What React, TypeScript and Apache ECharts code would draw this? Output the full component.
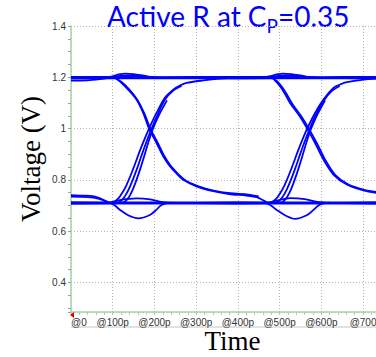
import React, { useEffect, useRef } from "react";
import * as echarts from "echarts";

// ---- data (time in ps, voltage in V) ----
const xTickValues = [0, 100, 200, 300, 400, 500, 600, 700];
const xTickLabels = ["@0", "@100p", "@200p", "@300p", "@400p", "@500p", "@600p", "@700"];
const yTickValues = [0.4, 0.6, 0.8, 1.0, 1.2, 1.4];
const yTickLabels = ["0.4", "0.6", "0.8", "1", "1.2", "1.4"];

const topRailA = [[0, 1.199], [150, 1.199], [300, 1.199], [450, 1.199], [600, 1.199], [731, 1.199]];
const topRailB = [[0, 1.195], [200, 1.196], [400, 1.195], [600, 1.196], [731, 1.195]];
const topRailC = [[0, 1.202], [200, 1.201], [400, 1.202], [600, 1.201], [731, 1.202]];
const topLeftStrand = [[0, 1.187], [40, 1.188], [70, 1.193], [90, 1.198]];

const bump1 = [[80, 1.199], [100, 1.204], [115, 1.211], [130, 1.214], [150, 1.212], [175, 1.206], [200, 1.2], [215, 1.199]];
const bump1b = [[85, 1.199], [110, 1.204], [135, 1.207], [160, 1.206], [185, 1.202], [205, 1.199]];
const bump2 = [[455, 1.199], [478, 1.205], [493, 1.211], [508, 1.214], [528, 1.212], [553, 1.206], [578, 1.2], [593, 1.199]];
const bump2b = [[462, 1.199], [488, 1.204], [513, 1.207], [538, 1.206], [563, 1.202], [583, 1.199]];

const fall1 = [[95, 1.2], [105, 1.199], [117, 1.184], [137, 1.152], [157, 1.113], [173, 1.061], [187, 1.0], [205, 0.944], [221, 0.892], [237, 0.853], [253, 0.825], [269, 0.801], [301, 0.775], [341, 0.756], [379, 0.745], [420, 0.739], [445, 0.733], [461, 0.72], [473, 0.71]];
const fall1b = [[100, 1.2], [121, 1.182], [141, 1.15], [160, 1.11], [176, 1.058], [190, 1.0], [208, 0.944], [224, 0.892], [240, 0.853], [272, 0.801], [304, 0.776], [344, 0.757], [382, 0.748], [425, 0.743], [450, 0.736]];
const fall2 = [[472, 1.2], [480, 1.2], [490, 1.186], [501, 1.165], [513, 1.135], [525, 1.1], [549, 1.046], [566, 1.0], [585, 0.944], [605, 0.879], [629, 0.821], [661, 0.782], [701, 0.759], [731, 0.749]];
const fall2b = [[477, 1.2], [494, 1.185], [505, 1.164], [517, 1.134], [529, 1.1], [553, 1.045], [570, 1.0], [589, 0.944], [609, 0.879], [633, 0.82], [665, 0.782], [705, 0.76], [731, 0.753]];

const lowTailL = [[0, 0.741], [30, 0.739], [55, 0.736], [70, 0.728], [85, 0.716], [95, 0.71]];
const lowTailL2 = [[0, 0.735], [40, 0.733], [65, 0.727], [90, 0.712]];

const lowRailA = [[0, 0.71], [200, 0.71], [400, 0.71], [600, 0.71], [731, 0.71]];
const lowRailB = [[0, 0.707], [200, 0.708], [400, 0.707], [600, 0.708], [731, 0.707]];
const lowRailC = [[0, 0.713], [200, 0.712], [400, 0.713], [600, 0.712], [731, 0.713]];

const dip1 = [[93, 0.711], [105, 0.7], [117, 0.684], [137, 0.662], [161, 0.65], [189, 0.663], [205, 0.684], [215, 0.7], [230, 0.709], [245, 0.711]];
const dip2 = [[469, 0.709], [481, 0.698], [493, 0.683], [513, 0.662], [537, 0.648], [565, 0.662], [581, 0.683], [593, 0.7], [607, 0.709], [620, 0.711]];
const lens1 = [[93, 0.711], [120, 0.722], [157, 0.728], [190, 0.724], [215, 0.714], [240, 0.71]];
const lens2 = [[469, 0.709], [496, 0.72], [525, 0.729], [560, 0.725], [590, 0.714], [615, 0.71]];

const rise1A = [[93, 0.71], [103, 0.714], [113, 0.727], [123, 0.75], [133, 0.78], [143, 0.818], [153, 0.86], [165, 0.913], [176, 0.958], [187, 1.0], [205, 1.061], [225, 1.12], [245, 1.152], [261, 1.168], [277, 1.178], [317, 1.188], [349, 1.194], [381, 1.198], [420, 1.199]];
const rise1B = [[108, 0.71], [118, 0.716], [128, 0.733], [138, 0.762], [148, 0.8], [158, 0.843], [168, 0.89], [180, 0.945], [192, 0.995], [205, 1.045], [225, 1.112], [245, 1.148], [265, 1.166]];
const rise1C = [[120, 0.71], [130, 0.716], [139, 0.733], [148, 0.762], [157, 0.8], [166, 0.843], [175, 0.89], [185, 0.945], [196, 0.998], [210, 1.05], [230, 1.11]];
const rise2A = [[472, 0.71], [482, 0.714], [492, 0.727], [502, 0.75], [512, 0.78], [522, 0.818], [532, 0.86], [544, 0.913], [555, 0.958], [566, 1.0], [585, 1.061], [605, 1.113], [629, 1.159], [645, 1.172], [661, 1.181], [701, 1.191], [731, 1.195]];
const rise2B = [[487, 0.71], [497, 0.716], [507, 0.733], [517, 0.762], [527, 0.8], [537, 0.843], [547, 0.89], [559, 0.945], [571, 0.995], [584, 1.045], [604, 1.105], [624, 1.145], [644, 1.166]];
const rise2C = [[499, 0.71], [509, 0.716], [518, 0.733], [527, 0.762], [536, 0.8], [545, 0.843], [554, 0.89], [564, 0.945], [575, 0.998], [589, 1.05], [609, 1.11]];

const traces = [
  topRailA, topRailB, topRailC, topLeftStrand,
  bump1, bump1b, bump2, bump2b,
  fall1, fall1b, fall2, fall2b,
  lowTailL, lowTailL2, lowRailA, lowRailB, lowRailC,
  dip1, dip2, lens1, lens2,
  rise1A, rise1B, rise1C, rise2A, rise2B, rise2C,
];

const BLUE = "#0000ff";
const AXIS_GREEN = "#a6d6a6";
const GRID_GRAY = "#b4b4b4";

function measure(text: string, font: string): number {
  const c = document.createElement("canvas").getContext("2d");
  if (!c) return text.length * 14;
  c.font = font;
  return c.measureText(text).width;
}

export default function App() {
  const ref = useRef<HTMLDivElement>(null);
  useEffect(() => {
    if (!ref.current) return;
    const chart = echarts.init(ref.current, undefined, { renderer: "svg" });
    const titleX = 107;
    const w1 = measure("Active R at C", "28px Lato");
    const wP = measure("P", "19px Lato");

    const series = traces.map((d, i) => ({
      type: "line",
      name: "t" + i,
      data: d,
      showSymbol: false,
      smooth: 0.3,
      silent: true,
      clip: true,
      lineStyle: { color: BLUE, width: 1.8 },
      itemStyle: { color: BLUE },
    }));

    chart.setOption({
      animation: false,
      backgroundColor: "#ffffff",
      grid: { left: 71, right: 0, top: 26, bottom: 45, containLabel: false, outerBoundsMode: "none" },
      xAxis: {
        type: "value",
        min: 0,
        max: 731,
        interval: 100,
        axisLine: { show: true, lineStyle: { color: AXIS_GREEN, width: 1.5 } },
        axisTick: { show: true, length: 3, lineStyle: { color: AXIS_GREEN } },
        minorTick: { show: true, splitNumber: 5, length: 3, lineStyle: { color: AXIS_GREEN } },
        minorSplitLine: { show: false },
        splitLine: { show: true, lineStyle: { color: GRID_GRAY, type: [1, 2], width: 1 } },
        axisLabel: {
          margin: 5,
          fontSize: 10,
          fontFamily: "Liberation Sans Narrow, Liberation Sans, sans-serif",
          color: "#333",
          showMaxLabel: false,
          alignMinLabel: "left",
          formatter: (v: number) => {
            const i = xTickValues.indexOf(Math.round(v));
            return i >= 0 && Math.abs(v - Math.round(v)) < 1e-6 ? xTickLabels[i] : "";
          },
        },
      },
      yAxis: {
        type: "value",
        min: 0.285,
        max: 1.4,
        splitNumber: 5,
        axisLine: { show: true, lineStyle: { color: AXIS_GREEN, width: 1.5 } },
        axisTick: { show: true, length: 3, lineStyle: { color: "#a0a0a0" } },
        minorTick: { show: true, splitNumber: 4, length: 3, lineStyle: { color: "#a0a0a0" } },
        splitLine: { show: true, lineStyle: { color: GRID_GRAY, type: [1, 2], width: 1 } },
        axisLabel: {
          margin: 5,
          fontSize: 10,
          fontFamily: "Liberation Sans, sans-serif",
          color: "#333",
          showMinLabel: false,
          formatter: (v: number) => {
            const i = yTickValues.findIndex((t) => Math.abs(t - v) < 1e-6);
            return i >= 0 ? yTickLabels[i] : "";
          },
        },
      },
      graphic: [
        { type: "text", x: titleX, y: 16, style: { text: "Active R at C", fontSize: 28, fontFamily: "Lato", fill: BLUE, align: "left", verticalAlign: "middle" } },
        { type: "text", x: titleX + w1, y: 25, style: { text: "P", fontSize: 19, fontFamily: "Lato", fill: BLUE, align: "left", verticalAlign: "middle" } },
        { type: "text", x: titleX + w1 + wP, y: 16, style: { text: "=0.35", fontSize: 28, fontFamily: "Lato", fill: BLUE, align: "left", verticalAlign: "middle" } },
        { type: "text", x: 232.5, y: 341, style: { text: "Time", fontSize: 27, fontFamily: "Liberation Serif", fill: "#000", align: "center", verticalAlign: "middle" } },
        { type: "text", x: 31, y: 159, rotation: Math.PI / 2, style: { text: "Voltage (V)", fontSize: 27, fontFamily: "Liberation Serif", fill: "#000", align: "center", verticalAlign: "middle" } },
        { type: "line", shape: { x1: 71, y1: 327, x2: 376, y2: 327 }, style: { stroke: "#c4c4c4", lineWidth: 1 } },
        { type: "polygon", shape: { points: [[74, 312], [74, 318], [70, 315]] }, style: { fill: "#e00000" }, z: 100 },
      ],
      series,
    });
    return () => chart.dispose();
  }, []);
  return <div ref={ref} style={{ position: "fixed", left: 0, top: 0, width: 376, height: 357 }} />;
}
